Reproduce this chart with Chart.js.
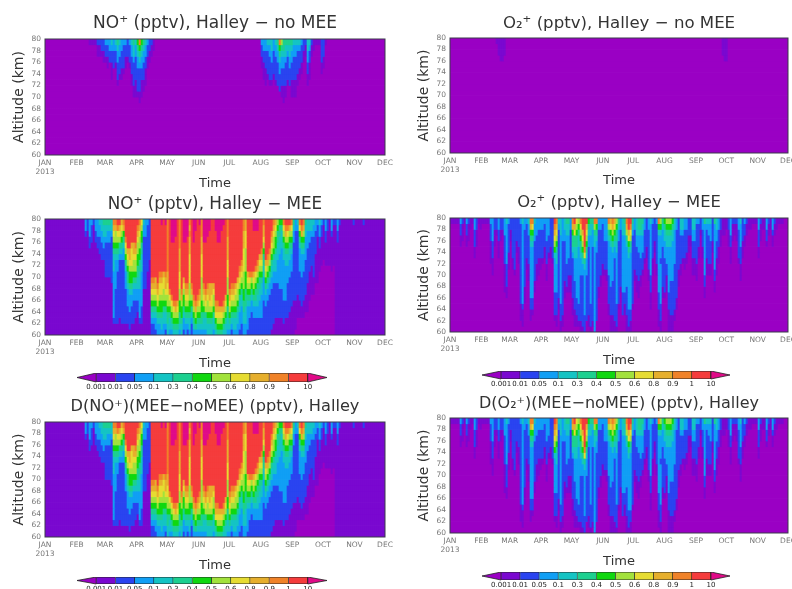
<!DOCTYPE html>
<html><head><meta charset="utf-8">
<script src="https://cdn.jsdelivr.net/npm/chart.js@4"></script>
<style>
html,body{margin:0;padding:0;background:#fff;width:792px;height:589px;overflow:hidden}
canvas{position:absolute;filter:blur(.6px)}
</style></head><body>
<script>
// Colour classes, one per contour interval (code 0-9,a,b,c)
const levelColors=['#9a00c4','#7a08d0','#2a44f0','#109fF5','#14c4c4','#1cd090','#10d810','#a2e23c','#e6dc32','#e6af2d','#f08228','#f53c3c','#e00a88'];
const levelTicks=['0.001','0.01','0.05','0.1','0.3','0.4','0.5','0.6','0.8','0.9','1','10'];
const monthDays=[0,31,59,90,120,151,181,212,243,273,304,334];
const monthNames=['JAN','FEB','MAR','APR','MAY','JUN','JUL','AUG','SEP','OCT','NOV','DEC'];
const altitudeTicks=[80,78,76,74,72,70,68,66,64,62,60];
const altitudeTop=80, altitudeBottom=60;
const quiet=n=>Array(n).fill('');

// Each string is one time column, 1 km cells from 80 km downward, as a contour-class code;
// cells past the end of a string take the panel's base class.
const noPlusAutumn=['1','1','1','1','211','211','221','2211','3221','32211','3322','4322111','33222','43221','54332221','4332221','3322211','322221','32211','2221','32221','43322211','5443222211','4332222111','6543322221','a6543222211','6543322111','543322211','43322111','32211','2211','211','11'];
const noPlusSpring=['32211','3322111','33222111','4322221','43322221','44332221','3322221','43322221','54332222','a65433222','7543322211','55433222111','5443222211','54322221','54433222','5433222111','4332222111','4332222111','43222211','4322211','322211','2211','211','44332211','4322111','211','11','1','1','1','222211','22211','1'];
const noPlusNoMEE=[...quiet(22),...noPlusAutumn,...quiet(53),...noPlusSpring,...quiet(29)];
const o2PlusFeb=['1','111','1111','1111','111'];
const o2PlusSep=['111','1111','1111'];
const o2PlusNoMEE=[...quiet(23),...o2PlusFeb,...quiet(108),...o2PlusSep,...quiet(30)];
const noPlusMEE=[...quiet(20),
'33211','22111','33322111','3222','211','3322','33322','4332221','4433222','5443322',
'5443222222','5433222222','5433222222','4432222222211','a9876544433333333211','a9776543333322222211','ba876543322222222211','b9875432222222222111','98765432222222222211','a9654332222222222211',
'bbba8765433322222211','bbbbb987655433322211','bbbbb998766543332221','bbbb9888766543322211','bbbb99877654332222 1','bbbba987765433222 11','ba987766554433221','a9877665544433333211','87665544433333322211','4332222222221',
'333222222222111','3222222221','222222211111','bbbbbbbbbba987654322','bbbbbbbbbba987654322','bbbbbbbbbb9987654332','bbbbbbbbbbba98765433','bbbbbbbbba9887665433','cbbbbbbbba9887665443','bbbbbbbbb98877654433',
'cbbbbbbbba9987654432','aaaaaaaaa99887765544','bbbbbbbbbbbba8765443','ccccbbbbbbbbba876543','ccccbbbbbbbbbba87654','cccbbbbbbbbbbba97654','bbbbbbbbbbbbbb987654','aaaaa999988877665543','bbbbbbbbbbbba9766544','ccccbbbbbb9876654332',
'ccccbbbbbbba98765433','cccbbbbbbbba98765432','a9a99988888777665443','bbbbbbbbbbba97654322','ccccbbbbbbbbba976543','ccbbbbbbbbbbbba97653','bbbbbbbbbbbbba976543','cbbbbbbbbbbba9876543','aaa99988887777665543','ccccbbbbbbba98765443',
'ccccbbbbbbbba9875443','cccbbbbbbbba98776544','ccbbbbbbbbb999876544','bbbbbbbbbbb998876544','bbbbbbbbbbb987765443','ccbbbbbbbbbbbba98654','ccccbbbbbbbbbba98765','ccccbbbbbbbbbbb98765','ccbbbbbbbbbbbbb98765','cbbbbbbbbbbbbba97654',
'bbbbbbbbbbbbb9876544','aaa99998887776655443','bbbbbbbbbbbba9876543','bbbbbbbbbbba98765432','bbbbbbbbbbba98765443','bbbbbbbbbbb987765443','bbbbbbbbbb9877654433','bbbbbbbba98765443332','bbbbbbba987654433322','aa999888877766554433',
'99888777766655544433','bbbbbbbbb98765433332','bbbbbbbbba8765433222','bbbbbbbbba7654332222','ccbbbbbbb98765433222','ccbbbbbba87655433222','ccbbbbba976554433222','bbbbbb98765544333222','bbbbba98765443333222','a9987655443333222222',
'bbbbbbb9876543322222','bbbbbba9765433222222','bbbbba97654332222222','bba98765443322222221','a9877654433222222211','98766544433222222111','76554443333222222111','65544433333322222111','65444333333322222111','a8765443333333222211',
'ba976544333333222111','ba876544333222222111','b9765443332222221111','a8765433322222211111','54332222222222111111','33222222222222111110','43222222222221111000','a8654333322222111000','ba965433332222211000','a9765433322222111000',
'54433332222221110000','44333222222111110000','44332222211111000000','44322222111110000000','43322222221110000000','33222211111000000000','32211111111000000000','43322111100000000000','32211111000000000000','21111110000000000000',
'33221111000000000000','22111111000000000000','11111111000000000000','33211111100000000000','21111111000000000000','211','33221','211','','','','','','','211','','','','','2111','','','','','','','','','',''];
const o2PlusMEE=[
'1','1','1','1','1','32211','2111','1','32211','2111','11','1','3322211','22111','1','11','1','1','1','1',
'32221111','3333222111','22111','221','3322111','2211','221','3332222211111','43333333222211','322222111',
'2211','222222211','2222222221','222211','22222111','322222222222222111','4333333333333332111','3322222222221110','322222211','43322222111',
'a96543333333332211','a8654333333333221','4333222222211','33322222111','3322222111','332222211','33222221','3222211','33332222111','3332221',
'2222211','22222221','ba9876433333322221','a987654433333222211','4322222222222211','44433333333333322211','3333222222222222211','44332222222111','5443333322221','5443333222111',
'3322222222111','a9655432222222111','b9855443333222221110','8765544333333322211','7654433333333332221','a8765543332222222211','bb987654332222222221','bbbbba85433333333222','b98765433322222222','6543322222222222211',
'54433333333333322221','5433322222222222221','a7544333333333333333','a65433222222222222','33222222222211','332222222211','3222222211','3333222221','33332222211','a7543333332222211',
'98654333333322222111','a9765433333222222111','98654332222222222211','76554433333333322221','5433222222222221','3322222222221','44433333333332222','54433333333332211','a9754333333322222111','bb986543333333332221',
'ba875433333333332211','5432222222222221','33222222211','4443322222111','55433322222111','554333322211','5443332221','33222221','2222211','33222222211',
'4333333333222111','3222222111','222211','3222222211','a6433333333332221110','76433332333333322211','54333222222211','65443332222221','7654433322111','76544333333332221111',
'76544333333222222111','65443333333222222111','44333333222222221100','3322222222222211','222222222111','4432222211','44322221','332222211','33222211','222111',
'22211','4433222111','4433222111','32222222111','3222211','221','3322211','53333333332211','4322222111','4332222211',
'4333222211','222211','5333333332211','4433222111','33222111','22111','111','111','11','22111',
'33322111','2111','211','2111','33222221','43333222111','2222111','32211','211','11',
'11','1','1','1','3322211','2111','11','11','33221','211',
'11','33211','211','11','1','1','1','',''];
// Difference panels read the same as the MEE panels to within what the picture shows.
const noPlusDiff=noPlusMEE.slice();
const o2PlusDiff=o2PlusMEE.slice();

const panels=[
 {grid:noPlusNoMEE,base:'0',title:'NO⁺ (pptv), Halley − no MEE',titleSize:17,left:45,right:385,top:39,bottom:155,titleY:24,timeY:182,mid:215},
 {grid:o2PlusNoMEE,base:'0',title:'O₂⁺ (pptv), Halley − no MEE',titleSize:16.6,left:450,right:788,top:38,bottom:153,titleY:24,timeY:179,mid:619},
 {grid:noPlusMEE,base:'1',title:'NO⁺ (pptv), Halley − MEE',titleSize:16.8,left:45,right:385,top:219,bottom:335,titleY:205,timeY:362,mid:215},
 {grid:o2PlusMEE,base:'0',title:'O₂⁺ (pptv), Halley − MEE',titleSize:16.4,left:450,right:788,top:218,bottom:332,titleY:203,timeY:359,mid:619},
 {grid:noPlusDiff,base:'1',title:'D(NO⁺)(MEE−noMEE) (pptv), Halley',titleSize:16.2,left:45,right:385,top:422,bottom:537,titleY:407,timeY:564,mid:215},
 {grid:o2PlusDiff,base:'0',title:'D(O₂⁺)(MEE−noMEE) (pptv), Halley',titleSize:16,left:450,right:788,top:418,bottom:533,titleY:404,timeY:560,mid:619}
];
const colorbars=[
 {left:77,right:327,top:373,barH:9},
 {left:482,right:730,top:371,barH:8},
 {left:77,right:327,top:577,barH:7},
 {left:482,right:730,top:572,barH:8}
];

const FONT='"DejaVu Sans"';
const lastDay=monthDays[monthDays.length-1];
const frame={id:'frame',afterDatasetsDraw(c){const a=c.chartArea,x=c.ctx;x.save();x.strokeStyle='#3a3a4a';x.lineWidth=1;x.strokeRect(a.left,a.top,a.right-a.left,a.bottom-a.top);x.restore();}};

function addCanvas(l,t,w,h){const e=document.createElement('canvas');e.style.left=l+'px';e.style.top=t+'px';e.style.width=w+'px';e.style.height=h+'px';e.width=w;e.height=h;document.body.appendChild(e);return e;}

panels.forEach(p=>{
  const titleLine=p.titleSize*1.2, titlePadBottom=(p.top-p.titleY)-titleLine/2, titlePadTop=p.titleY-titleLine/2-(p.top-30);
  const axisH=p.timeY-p.bottom+9;
  const cvLeft=p.left-45, cvRight=2*p.mid-cvLeft;
  const cvTop=p.top-30, h=p.bottom-cvTop+axisH;
  const step=lastDay/p.grid.length;
  const datasets=[];
  for(let r=0;r<altitudeTop-altitudeBottom;r++){
    datasets.push({
      data:p.grid.map((col,i)=>({x:(i+.5)*step,y:[altitudeTop-r-1,altitudeTop-r]})),
      backgroundColor:p.grid.map(col=>{const ch=col[r];return levelColors[parseInt(ch&&ch!==' '?ch:p.base,16)];}),
      borderWidth:0,grouped:false,categoryPercentage:1,barPercentage:1
    });
  }
  new Chart(addCanvas(cvLeft,cvTop,cvRight-cvLeft,h),{
    type:'bar',data:{datasets},plugins:[frame],
    options:{responsive:false,animation:false,devicePixelRatio:1,
      layout:{autoPadding:false,padding:0},
      plugins:{legend:{display:false},tooltip:{enabled:false},
        title:{display:true,text:p.title,color:'#333',font:{family:FONT,size:p.titleSize,weight:'normal',lineHeight:1.2},padding:{top:titlePadTop,bottom:titlePadBottom}}},
      scales:{
        x:{type:'linear',offset:false,min:0,max:lastDay,
          afterBuildTicks(s){s.ticks=monthDays.map(v=>({value:v}));},
          afterFit(s){s.height=axisH;},
          grid:{display:false,tickLength:3,tickColor:'#777'},border:{display:false},
          ticks:{autoSkip:false,maxRotation:0,minRotation:0,padding:1,color:'#777',font:{family:FONT,size:7.5},
            callback:(v)=>{const i=monthDays.indexOf(v);return i===0?['JAN','2013']:monthNames[i];}},
          title:{display:true,text:'Time',color:'#333',font:{family:FONT,size:13,lineHeight:1.2},padding:{top:0,bottom:0}}},
        y:{type:'linear',min:altitudeBottom,max:altitudeTop,
          afterBuildTicks(s){s.ticks=altitudeTicks.map(v=>({value:v}));},
          afterFit(s){s.width=45;},
          grid:{display:false,tickLength:3,tickColor:'#777'},border:{display:false},
          ticks:{autoSkip:false,padding:1,color:'#777',font:{family:FONT,size:7.5}},
          title:{display:true,text:'Altitude (km)',color:'#333',font:{family:FONT,size:14,lineHeight:1.2},padding:{top:11,bottom:0}}},
        spacer:{type:'linear',axis:'y',position:'right',min:0,max:1,
          afterFit(s){s.width=cvRight-p.right;},
          grid:{display:false},border:{display:false},ticks:{display:false}}
      }}
  });
});

const triangles={id:'tri',afterDatasetsDraw(c){
  const x=c.ctx,s=c.scales.x,a=c.chartArea,mid=(a.top+a.bottom)/2;
  [[0,1,levelColors[0]],[13,12,levelColors[12]]].forEach(([tip,base,col])=>{
    x.save();x.beginPath();x.moveTo(s.getPixelForValue(tip),mid);x.lineTo(s.getPixelForValue(base),a.top);x.lineTo(s.getPixelForValue(base),a.bottom);x.closePath();
    x.fillStyle=col;x.fill();x.strokeStyle='#222';x.lineWidth=.8;x.stroke();x.restore();});
}};
colorbars.forEach(b=>{
  const H=Math.min(b.barH+13,589-b.top);
  const datasets=levelColors.slice(1,12).map((col,k)=>({data:[{x:[k+1,k+2],y:'bar'}],backgroundColor:col,borderColor:'#222',borderWidth:.8,grouped:false,categoryPercentage:1,barPercentage:1}));
  new Chart(addCanvas(b.left-6,b.top,b.right-b.left+12,H),{
    type:'bar',data:{labels:['bar'],datasets},plugins:[triangles],
    options:{indexAxis:'y',responsive:false,animation:false,devicePixelRatio:1,
      layout:{autoPadding:false,padding:{left:6,right:6,top:0,bottom:0}},
      plugins:{legend:{display:false},tooltip:{enabled:false}},
      scales:{
        y:{type:'category',display:false},
        x:{type:'linear',offset:false,min:0,max:13,
          afterBuildTicks(s){s.ticks=levelTicks.map((_,i)=>({value:i+1}));},
          afterFit(s){s.height=H-b.barH;},
          grid:{display:false,drawTicks:false},border:{display:false},
          ticks:{autoSkip:false,maxRotation:0,minRotation:0,padding:1,color:'#222',font:{family:FONT,size:7},callback:(v)=>levelTicks[v-1]}}
      }}
  });
});
</script>
</body></html>
